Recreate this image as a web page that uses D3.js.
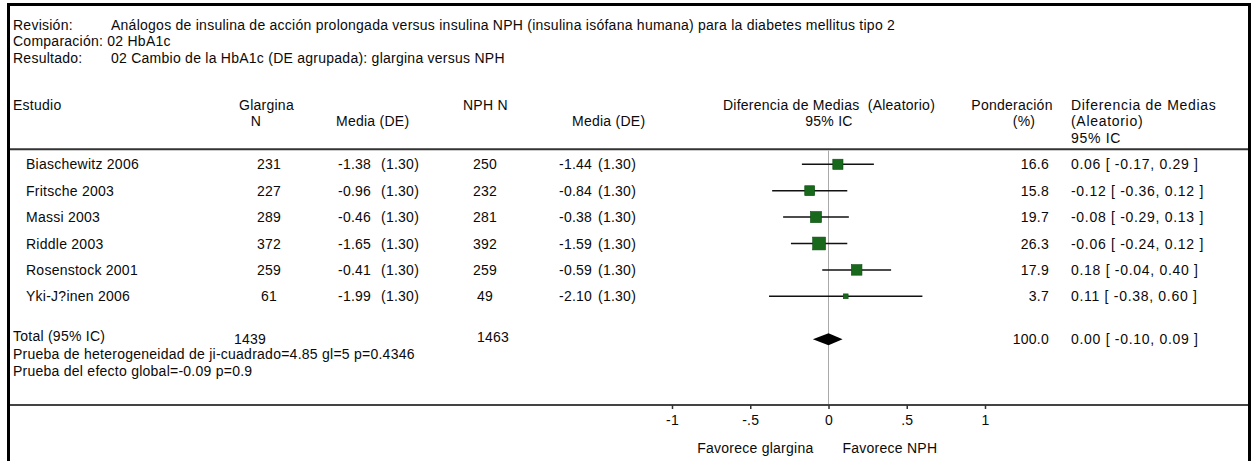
<!DOCTYPE html>
<html>
<head>
<meta charset="utf-8">
<script src="https://cdn.jsdelivr.net/npm/d3@7/dist/d3.min.js"></script>
<style>
  html, body { margin: 0; padding: 0; background: #fff; }
  svg { display: block; }
  text { font-family: "Liberation Sans", Arial, sans-serif; font-size: 14px; letter-spacing: 0.25px; fill: #0a0a0a; }
  text.effect { letter-spacing: 0.7px; }
</style>
</head>
<body>
<svg id="chart" width="1259" height="461"></svg>
<script>
// Forest plot: glargina vs NPH, change in HbA1c (pooled SD), random-effects mean difference
const studies   = ["Biaschewitz 2006", "Fritsche 2003", "Massi 2003", "Riddle 2003", "Rosenstock 2001", "Yki-J?inen 2006"];
const glarN     = [231, 227, 289, 372, 259, 61];
const glarMean  = [-1.38, -0.96, -0.46, -1.65, -0.41, -1.99];
const glarSD    = [1.30, 1.30, 1.30, 1.30, 1.30, 1.30];
const nphN      = [250, 232, 281, 392, 259, 49];
const nphMean   = [-1.44, -0.84, -0.38, -1.59, -0.59, -2.10];
const nphSD     = [1.30, 1.30, 1.30, 1.30, 1.30, 1.30];
const weights   = [16.6, 15.8, 19.7, 26.3, 17.9, 3.7];
const md        = [0.06, -0.12, -0.08, -0.06, 0.18, 0.11];
const ciLow     = [-0.17, -0.36, -0.29, -0.24, -0.04, -0.38];
const ciHigh    = [0.29, 0.12, 0.13, 0.12, 0.40, 0.60];

const totalGlarN = 1439, totalNphN = 1463;
const totalWeight = 100.0, totalMd = 0.00, totalLow = -0.10, totalHigh = 0.09;

const tickValues = [-1, -0.5, 0, 0.5, 1];
const tickLabels = ["-1", "-.5", "0", ".5", "1"];

const headerLines = [
  ["Revisión:", "Análogos de insulina de acción prolongada versus insulina NPH (insulina isófana humana) para la diabetes mellitus tipo 2"],
  ["Comparación:", "02 HbA1c"],
  ["Resultado:", "02 Cambio de la HbA1c (DE agrupada): glargina versus NPH"]
];

const svg = d3.select("#chart");

const x = d3.scaleLinear().domain([-1, 1]).range([672, 985]);
const y = d3.scaleLinear().domain([0, studies.length - 1]).range([164.3, 296.3]);
const size = d3.scaleSqrt().domain([0, 100]).range([0, 25]);

const f2 = v => v.toFixed(2);
const f1 = v => v.toFixed(1);
const ciText = (m, lo, hi) => `${f2(m)} [ ${f2(lo)}, ${f2(hi)} ]`;

function txt(g, tx, ty, s, anchor) {
  return g.append("text").attr("x", tx).attr("y", ty)
    .attr("text-anchor", anchor || "start").text(s);
}

// frame
svg.append("rect").attr("x", 8.5).attr("y", 4.5).attr("width", 1241).attr("height", 480)
  .attr("fill", "none").attr("stroke", "#000").attr("stroke-width", 3);

// review info
const info = svg.append("g");
headerLines.forEach((l, i) => {
  const by = 29.5 + i * 16.5;
  if (i === 1) {
    txt(info, 13, by, l[0] + " " + l[1]);
  } else {
    txt(info, 13, by, l[0]);
    txt(info, 111, by, l[1]);
  }
});

// column headers
const hd = svg.append("g");
const L1 = 109.5, L2 = 126, L3 = 142.5;
txt(hd, 13, L1, "Estudio");
txt(hd, 239, L1, "Glargina");
txt(hd, 256, L2, "N", "middle");
txt(hd, 336, L2, "Media (DE)");
txt(hd, 463, L1, "NPH N");
txt(hd, 572, L2, "Media (DE)");
txt(hd, 829, L1, "Diferencia de Medias  (Aleatorio)", "middle").attr("xml:space", "preserve");
txt(hd, 829, L2, "95% IC", "middle");
txt(hd, 1012, L1, "Ponderación", "middle");
txt(hd, 1024, L2, "(%)", "middle");
txt(hd, 1071, L1, "Diferencia de Medias").attr("class", "effect");
txt(hd, 1071, L2, "(Aleatorio)").attr("class", "effect");
txt(hd, 1071, L3, "95% IC").attr("class", "effect");

// rule under headers
svg.append("line").attr("x1", 10).attr("x2", 1248).attr("y1", 149.3).attr("y2", 149.3)
  .attr("stroke", "#333").attr("stroke-width", 2);

// line of no effect
svg.append("line").attr("x1", x(0)).attr("x2", x(0)).attr("y1", 150.5).attr("y2", 405)
  .attr("stroke", "#aaa").attr("stroke-width", 1);

// study rows
const rows = svg.append("g");
studies.forEach((s, i) => {
  const by = y(i) + 5;
  txt(rows, 26, by, s);
  txt(rows, 269, by, glarN[i], "middle");
  txt(rows, 338, by, f2(glarMean[i]));
  txt(rows, 381, by, `(${f2(glarSD[i])})`);
  txt(rows, 485, by, nphN[i], "middle");
  txt(rows, 559, by, f2(nphMean[i]));
  txt(rows, 598, by, `(${f2(nphSD[i])})`);
  txt(rows, 1049, by, f1(weights[i]), "end");
  txt(rows, 1071, by, ciText(md[i], ciLow[i], ciHigh[i])).attr("class", "effect");
});

// confidence intervals and weighted squares
const marks = svg.append("g");
marks.selectAll("line.ci").data(studies).join("line").attr("class", "ci")
  .attr("x1", (d, i) => x(ciLow[i])).attr("x2", (d, i) => x(ciHigh[i]))
  .attr("y1", (d, i) => y(i)).attr("y2", (d, i) => y(i))
  .attr("stroke", "#111").attr("stroke-width", 1.5);
marks.selectAll("rect.box").data(studies).join("rect").attr("class", "box")
  .attr("x", (d, i) => x(md[i]) - size(weights[i]) / 2)
  .attr("y", (d, i) => y(i) - size(weights[i]) / 2)
  .attr("width", (d, i) => size(weights[i]))
  .attr("height", (d, i) => size(weights[i]))
  .attr("fill", "#18691b").attr("stroke", "#0e4d10").attr("stroke-width", 0.6);

// pooled result
const ty = 339.3;
txt(rows, 13, 341, "Total (95% IC)");
txt(rows, 250, 344, totalGlarN, "middle");
txt(rows, 493, 342, totalNphN, "middle");
txt(rows, 1049, ty + 5, f1(totalWeight), "end");
txt(rows, 1071, ty + 5, ciText(totalMd, totalLow, totalHigh)).attr("class", "effect");
marks.append("path")
  .attr("d", `M${x(totalLow)},${ty} L${x(totalMd)},${ty - 6} L${x(totalHigh)},${ty} L${x(totalMd)},${ty + 6} Z`)
  .attr("fill", "#000");

txt(rows, 13, 359, "Prueba de heterogeneidad de ji-cuadrado=4.85 gl=5 p=0.4346");
txt(rows, 13, 376, "Prueba del efecto global=-0.09 p=0.9");

// axis
const axisY = 405;
svg.append("line").attr("x1", 10).attr("x2", 1248).attr("y1", axisY).attr("y2", axisY)
  .attr("stroke", "#444").attr("stroke-width", 2);
const axis = d3.axisBottom(x).tickValues(tickValues)
  .tickFormat((d, i) => tickLabels[i]).tickSize(4).tickPadding(6);
const ag = svg.append("g").attr("transform", `translate(0,${axisY})`).call(axis);
ag.select(".domain").remove();
ag.selectAll(".tick line").attr("stroke", "#333").attr("stroke-width", 1.5);
ag.selectAll(".tick text").attr("fill", "#0a0a0a")
  .style("font-family", '"Liberation Sans", Arial, sans-serif').style("font-size", "14px");

txt(svg, x(0) - 15, 453, "Favorece glargina", "end");
txt(svg, x(0) + 14, 453, "Favorece NPH");
</script>
</body>
</html>
